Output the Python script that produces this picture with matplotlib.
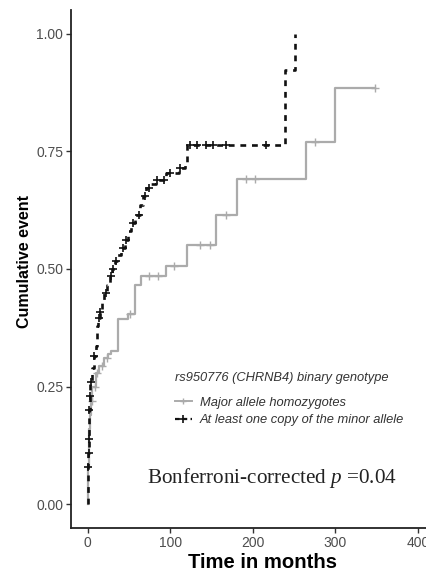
import numpy as np
import matplotlib
matplotlib.use("Agg")
import matplotlib.pyplot as plt
from matplotlib.lines import Line2D

plt.rcParams['font.family'] = ['Liberation Sans', 'DejaVu Sans']
plt.rcParams['mathtext.fontset'] = 'custom'
plt.rcParams['mathtext.rm'] = 'Liberation Serif'
plt.rcParams['mathtext.it'] = 'Liberation Serif:italic'

# ---- data ----
major_times = [0, 0.5, 1, 1.5, 2, 3, 4, 6, 10, 14, 20, 25, 28, 37, 49, 58, 65, 95, 120, 156, 181, 264, 300]
major_cum = [0, 0.04, 0.08, 0.12, 0.16, 0.19, 0.22, 0.25, 0.28, 0.295, 0.31, 0.32, 0.326, 0.393, 0.404,
             0.467, 0.485, 0.506, 0.552, 0.615, 0.691, 0.770, 0.885]
major_end = 348
major_censor = [5, 9, 12, 17, 23, 52, 75, 85, 105, 136, 148, 168, 192, 203, 275, 348]

minor_times = [0, 0.3, 0.6, 1.0, 1.3, 1.6, 2.0, 2.5, 3.0, 5, 7.5, 10, 11, 12, 13, 14.5, 17, 20, 23, 27, 30,
               33, 36, 40, 45, 49, 53, 58, 63, 67, 71, 77, 83, 95, 111, 118, 121, 239, 251]
minor_cum = [0, 0.04, 0.08, 0.11, 0.14, 0.17, 0.20, 0.23, 0.26, 0.29, 0.316, 0.337, 0.36, 0.38, 0.395,
             0.408, 0.43, 0.45, 0.467, 0.485, 0.499, 0.516, 0.53, 0.545, 0.562, 0.58, 0.598, 0.615,
             0.636, 0.655, 0.672, 0.68, 0.689, 0.704, 0.714, 0.728, 0.763, 0.922, 1.0]
minor_end = 251
minor_censor = [0.7, 1.2, 1.5, 2.2, 2.7, 4, 8, 14, 15, 22, 28, 31, 35, 43, 47, 55, 62, 70, 75, 84, 92,
                100, 112, 124, 133, 143, 152, 168, 216]

group_labels = ["Major allele homozygotes", "At least one copy of the minor allele"]
legend_title = "rs950776 (CHRNB4) binary genotype"
x_ticks = [0, 100, 200, 300, 400]
y_ticks = [0.0, 0.25, 0.50, 0.75, 1.00]
y_ticklabels = ["0.00", "0.25", "0.50", "0.75", "1.00"]

GREY = "#ababab"
BLACK = "#111111"


def step_value(times, cum, t):
    idx = np.searchsorted(np.asarray(times), t, side='right') - 1
    return np.asarray(cum)[idx]


fig = plt.figure(figsize=(4.26, 5.72), dpi=100)
ax = fig.add_axes([71 / 426, 44 / 572, 363.5 / 426, 518 / 572])

# major allele (grey, solid)
tx = list(major_times) + [major_end]
ty = list(major_cum) + [major_cum[-1]]
ax.step(tx, ty, where='post', color=GREY, lw=1.6, zorder=2)
ax.plot(major_censor, step_value(major_times, major_cum, major_censor), ls='none',
        marker='+', ms=6, mew=1.0, color=GREY, zorder=2)

# minor allele (black, dashed)
tx = list(minor_times) + [minor_end]
ty = list(minor_cum) + [minor_cum[-1]]
ax.step(tx, ty, where='post', color=BLACK, lw=1.9, ls=(0, (2.2, 2.2)), zorder=3)
ax.plot(minor_censor, step_value(minor_times, minor_cum, minor_censor), ls='none',
        marker='+', ms=6, mew=1.2, color=BLACK, zorder=3)

ax.set_xlim(-20, 420)
ax.set_ylim(-0.05, 1.05)
ax.set_xticks(x_ticks)
ax.set_yticks(y_ticks)
ax.set_yticklabels(y_ticklabels)
for s in ['top', 'right']:
    ax.spines[s].set_visible(False)
for s in ['left', 'bottom']:
    ax.spines[s].set_linewidth(1.3)
    ax.spines[s].set_color('#222222')
ax.tick_params(axis='both', length=3.5, width=1.0, color='#333333', labelcolor='#4d4d4d',
               labelsize=10, pad=2)

ax.set_xlabel("Time in months", fontsize=14.6, fontweight='bold')
ax.xaxis.set_label_coords((262 - 71) / 363.5, (528 - 563) / 518)
ax.xaxis.label.set_va('center')
ax.set_ylabel("Cumulative event", fontsize=11.5, fontweight='bold')
ax.yaxis.set_label_coords((25 - 71) / 363.5, (528 - 262) / 518)
ax.yaxis.label.set_va('center')

handles = [
    Line2D([], [], color=GREY, lw=1.4, marker='+', ms=5, mew=1.0),
    Line2D([], [], color=BLACK, lw=1.6, ls=(0, (2, 1.5)), marker='+', ms=6, mew=1.2),
]
leg = ax.legend(handles, group_labels, title=legend_title, frameon=False,
                loc='upper left', bbox_to_anchor=(166 / 426, 1 - 363 / 572),
                bbox_transform=fig.transFigure, prop={'style': 'italic', 'size': 9.3},
                title_fontproperties={'style': 'italic', 'size': 9.3}, handlelength=1.3,
                handletextpad=0.6, labelspacing=0.45, borderpad=0.2)
leg._legend_box.align = 'left'
leg._legend_box.sep = 9
for t in leg.get_texts():
    t.set_color('#333333')
leg.get_title().set_color('#333333')

fig.text(272 / 426, 1 - 478 / 572, "Bonferroni-corrected $p$ =0.04", ha='center', va='center',
         fontsize=15.2, family='Liberation Serif', color='#222222')

fig.savefig("out.png", dpi=100)
